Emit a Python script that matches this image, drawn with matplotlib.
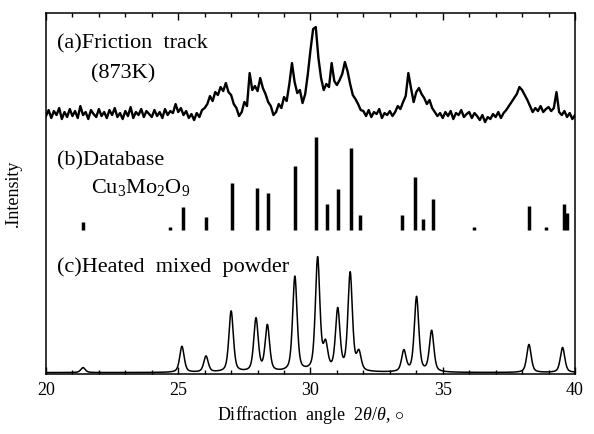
import numpy as np
import matplotlib.pyplot as plt

plt.rcParams['font.family'] = ['Liberation Serif', 'DejaVu Serif']
plt.rcParams['mathtext.fontset'] = 'custom'
plt.rcParams['mathtext.rm'] = 'Liberation Serif'
plt.rcParams['mathtext.it'] = 'Liberation Serif:italic'

# (a) friction track, read every 0.1 deg from 20 to 40 (px above bottom axis)
tt_a = np.round(np.arange(20.0, 40.05, 0.1), 2)
I_a = [258, 264, 256, 263, 259, 266, 255, 262, 257, 265,
       258, 263, 256, 268, 259, 262, 255, 264, 260, 257,
       265, 258, 262, 256, 264, 259, 266, 257, 261, 255,
       263, 258, 267, 256, 262, 259, 265, 257, 263, 260,
       257, 264, 258, 262, 256, 265, 259, 263, 261, 270,
       262, 266, 259, 263, 256, 260, 254, 261, 257, 264,
       266, 270, 278, 273, 282, 279, 287, 283, 291, 282,
       279, 270, 266, 258, 262, 272, 268, 301, 284, 288,
       283, 296, 286, 280, 272, 268, 259, 262, 270, 266,
       277, 273, 290, 311, 292, 281, 284, 271, 280, 300,
       324, 345, 347, 316, 296, 284, 290, 287, 311, 293,
       289, 294, 300, 312, 303, 290, 279, 275, 270, 264,
       263, 258, 264, 257, 262, 260, 265, 256, 261, 259,
       263, 258, 262, 268, 265, 272, 278, 301, 286, 272,
       282, 286, 280, 276, 270, 274, 266, 262, 258, 261,
       256, 262, 258, 263, 255, 261, 259, 264, 257, 260,
       262, 256, 261, 258, 254, 259, 252, 257, 255, 260,
       257, 262, 256, 261, 264, 268, 272, 276, 280, 287,
       284, 279, 274, 268, 262, 266, 263, 268, 262, 265,
       267, 263, 266, 282, 262, 259, 263, 257, 261, 255,
       259]

# (b) database lines Cu3Mo2O9
tt_b = [21.39, 24.69, 25.19, 26.04, 27.05, 27.96, 28.38, 29.41, 30.21, 30.61, 31.05,
        31.52, 31.87, 33.47, 33.95, 34.24, 34.62, 36.19, 38.27, 38.90, 39.60, 39.71]
I_b = [8, 3, 23, 13, 47, 42, 37, 64, 93, 26, 41,
       82, 15, 15, 53, 11, 31, 3, 24, 3, 26, 17]
base_b = 144

# (c) heated mixed powder, peak list
tt_c = [21.4, 25.14, 26.05, 27.0, 27.94, 28.37, 29.41, 30.27, 30.57, 31.03,
        31.5, 31.83, 33.53, 34.01, 34.58, 38.26, 39.53]
I_c = [5, 26, 16, 61, 53, 46, 95, 113, 25, 61,
       98, 18, 21, 75, 41, 28, 25]
w_c = 0.2
base_c = 1.5

x = np.arange(20, 40.001, 0.01)
yc = np.full_like(x, base_c)
for p, h in zip(tt_c, I_c):
    g = np.exp(-4*np.log(2)*((x-p)/w_c)**2)
    l = 1/(1+4*((x-p)/w_c)**2)
    yc += h*(0.5*g + 0.5*l)

fig = plt.figure(figsize=(5.94, 4.34), dpi=100)
ax = fig.add_axes([0.0774, 0.138, 0.8906, 0.832])

ax.plot(tt_a, I_a, color='k', lw=1.7)
ax.vlines(tt_b, base_b, np.array(I_b) + base_b, colors='k', lw=2.5)
ax.plot(x, yc, color='k', lw=1.1)

ax.set_xlim(20, 40)
ax.set_ylim(0, 361)
ax.set_yticks([])
ax.set_xticks([20, 25, 30, 35, 40])
ax.set_xticks(np.arange(20, 41, 1), minor=True)
ax.tick_params(axis='x', which='both', direction='in', top=True, labelsize=13, pad=6)
ax.tick_params(axis='x', which='major', length=5, width=1)
ax.tick_params(axis='x', which='minor', length=3, width=1)
for s in ax.spines.values():
    s.set_linewidth(1.1)

ax.set_xlabel(r'Diffraction  angle  2$\theta$/$\theta$, $\circ$', fontsize=13)
ax.xaxis.set_label_coords(0.5, -0.082)
ax.set_ylabel('.Intensity', fontsize=13)
ax.yaxis.set_label_coords(-0.045, 0.5)

ax.text(0.021, 0.903, '(a)Friction  track', transform=ax.transAxes, fontsize=16, va='baseline')
ax.text(0.085, 0.820, '(873K)', transform=ax.transAxes, fontsize=16, va='baseline')
ax.text(0.021, 0.579, '(b)Database', transform=ax.transAxes, fontsize=16, va='baseline')
ax.text(0.085, 0.501, r'Cu$_3$Mo$_2$O$_9$', transform=ax.transAxes, fontsize=16, va='baseline')
ax.text(0.021, 0.283, '(c)Heated  mixed  powder', transform=ax.transAxes, fontsize=16, va='baseline')

fig.savefig('out.png', dpi=100)
